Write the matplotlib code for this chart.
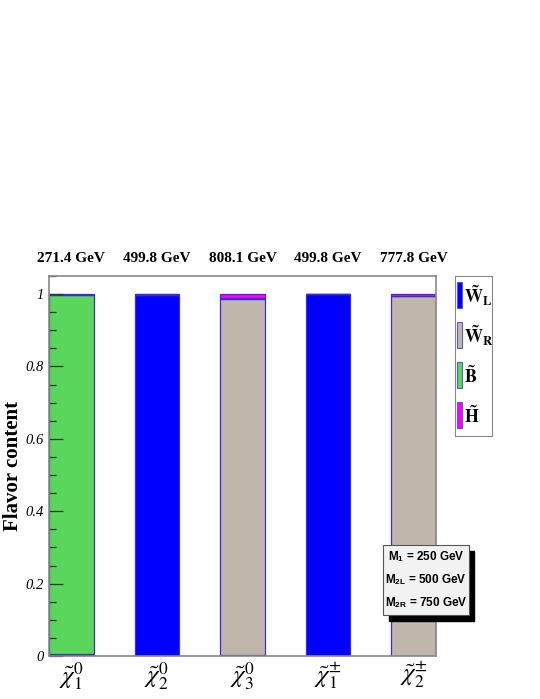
import numpy as np
import matplotlib
matplotlib.use("Agg")
import matplotlib.pyplot as plt
from matplotlib.patches import Rectangle
from matplotlib.ticker import MultipleLocator

# neutralino / chargino flavour content
particles = [r"$\tilde{\chi}^0_1$", r"$\tilde{\chi}^0_2$", r"$\tilde{\chi}^0_3$",
             r"$\tilde{\chi}^{\pm}_1$", r"$\tilde{\chi}^{\pm}_2$"]
masses = ["271.4 GeV", "499.8 GeV", "808.1 GeV", "499.8 GeV", "777.8 GeV"]

wino_L = [0.006, 0.998, 0.002, 1.000, 0.000]
wino_R = [0.000, 0.000, 0.984, 0.000, 0.995]
bino   = [0.991, 0.001, 0.004, 0.000, 0.000]
higgs  = [0.003, 0.001, 0.010, 0.000, 0.005]

components = [wino_L, wino_R, bino, higgs]
comp_colors = ["#0000ff", "#c0b6ab", "#5ad65a", "#ff00ff"]
comp_labels = [r"$\mathbf{\tilde{W}_L}$", r"$\mathbf{\tilde{W}_R}$",
               r"$\mathbf{\tilde{B}}$", r"$\mathbf{\tilde{H}}$"]

plt.rcParams["font.family"] = "Liberation Serif"
plt.rcParams["mathtext.fontset"] = "stix"

fig = plt.figure(figsize=(5.4, 6.99), dpi=100)
ax = fig.add_axes([49 / 540, 1 - 656 / 699, 387 / 540, 380 / 699])

width = 0.52
x = np.arange(len(particles))
bottom = np.zeros(len(particles))
for vals, col in zip(components, comp_colors):
    ax.bar(x, vals, width=width, bottom=bottom, align="edge",
           color=col, edgecolor="#3a2fc8", linewidth=0.9)
    bottom += np.array(vals)

ax.set_xlim(0, 4 + width)
ax.set_ylim(0, 1.05)
ax.set_xticks(x + width / 2)
ax.set_xticklabels(particles, fontsize=18)
ax.tick_params(axis="x", length=0, pad=3)

ax.yaxis.set_major_locator(MultipleLocator(0.2))
ax.yaxis.set_minor_locator(MultipleLocator(0.05))
ax.tick_params(axis="y", direction="in", length=10, width=0.9, color="#333333", pad=4)
ax.tick_params(axis="y", which="minor", direction="in", length=5, width=0.9, color="#333333")
ax.set_yticks([0, 0.2, 0.4, 0.6, 0.8, 1.0])
ax.set_yticklabels(["0", "0.2", "0.4", "0.6", "0.8", "1"], fontstyle="italic", fontsize=10.5)
ax.set_ylabel("Flavor content", fontsize=15, fontweight="bold")
ax.yaxis.set_label_coords(-0.066, 0.5)

for sp in ax.spines.values():
    sp.set_color("#888888")
    sp.set_linewidth(1.2)

for xi, m in zip(x, masses):
    ax.text(xi + width / 2, 1.028, m, ha="center", va="bottom", fontsize=11,
            fontweight="bold", transform=ax.get_xaxis_transform())

# legend box on the right
lax = fig.add_axes([455 / 540, 1 - 436 / 699, 37 / 540, 160 / 699])
lax.set_xlim(0, 1)
lax.set_ylim(0, 4)
lax.set_xticks([])
lax.set_yticks([])
for sp in lax.spines.values():
    sp.set_color("#888888")
for i, (col, lab) in enumerate(zip(comp_colors, comp_labels)):
    yy = 3 - i
    lax.add_patch(Rectangle((0.05, yy + 0.2), 0.14, 0.65, facecolor=col,
                            edgecolor="#5a5ad0", linewidth=0.8))
    lax.text(0.23, yy + 0.5, lab, fontsize=13, va="center", ha="left")

# parameter box with shadow
fig.patches.append(Rectangle((389 / 540, 1 - 621 / 699), 85 / 540, 70 / 699,
                             transform=fig.transFigure, facecolor="black",
                             edgecolor="black", zorder=5))
fig.patches.append(Rectangle((383 / 540, 1 - 615 / 699), 86 / 540, 70 / 699,
                             transform=fig.transFigure, facecolor="#f2f2f2",
                             edgecolor="#555555", linewidth=0.8, zorder=6))
box_lines = [r"M$_\mathregular{1}$ = 250 GeV", r"M$_\mathregular{2L}$ = 500 GeV",
             r"M$_\mathregular{2R}$ = 750 GeV"]
for j, t in enumerate(box_lines):
    fig.text(426 / 540, 1 - (557 + 23 * j) / 699, t, ha="center", va="center",
             fontsize=8.5, fontweight="bold", family="Liberation Sans", zorder=7)

fig.savefig("out.png", dpi=100)
